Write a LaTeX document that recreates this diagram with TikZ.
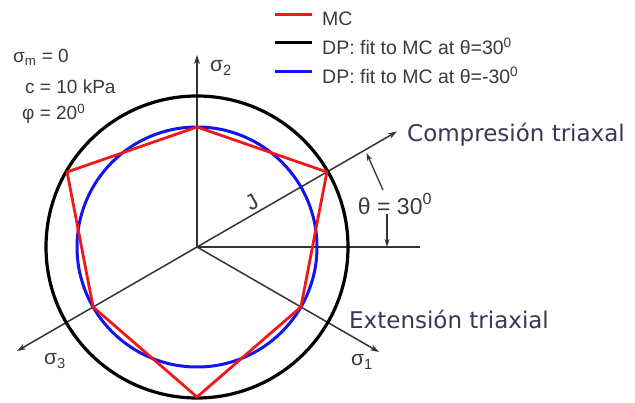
\documentclass[tikz,border=0pt]{standalone}
\usepackage{fontspec}
\setmainfont{Liberation Sans}
\newfontfamily\dejavu{DejaVu Sans}
\usetikzlibrary{arrows.meta}
\definecolor{txtgray}{HTML}{3A3A3A}
\definecolor{navy}{HTML}{3B3558}
\definecolor{mcred}{HTML}{F21818}
\definecolor{dpblue}{HTML}{1414EE}
\definecolor{axgray}{HTML}{333333}
\begin{document}
\begin{tikzpicture}[x=1pt,y=-1pt,
  axis/.style={draw=axgray,line width=1.5pt,-{Stealth[length=9pt,width=6pt]}},
  thin/.style={draw=axgray,line width=1.5pt},
  marker/.style={draw=axgray,line width=1.3pt,-{Stealth[length=8pt,width=5pt]}},
  legtxt/.style={anchor=base west,inner sep=0pt,text=txtgray,font=\fontsize{19.5}{22}\selectfont},
  partxt/.style={anchor=base west,inner sep=0pt,text=txtgray,font=\fontsize{19}{22}\selectfont},
  sigtxt/.style={inner sep=0pt,text=txtgray,font=\fontsize{21}{24}\selectfont},
  bigtxt/.style={anchor=base west,inner sep=0pt,text=navy,font=\dejavu\fontsize{23}{26}\selectfont},
  legline/.style={line width=3pt}]
\useasboundingbox (0,0) rectangle (635,403);

% centre and key points
\coordinate (O) at (197,247);
\coordinate (s2) at (197,55);
\coordinate (s3) at (17,351);
\coordinate (s1) at (379,352);
\coordinate (comp) at (397,131.5);
\coordinate (hend) at (420,247);
\coordinate (onc) at (366.5,153);
\coordinate (mA) at (383,190);
\coordinate (mB) at (387,214);
\coordinate (mC) at (387,247);

% MC vertices
\coordinate (c1) at (326.9,172);
\coordinate (e1) at (197,127);
\coordinate (c2) at (67.1,172);
\coordinate (e2) at (93.1,307);
\coordinate (c3) at (197,397);
\coordinate (e3) at (300.9,307);

% axes
\draw[axis] (O) -- (s2);
\draw[axis] (O) -- (s3);
\draw[axis] (O) -- (s1);
\draw[axis] (O) -- (comp);
\draw[thin] (O) -- (hend);

% curves
\draw[black,line width=3.2pt] (O) circle[radius=151];
\draw[dpblue,line width=3pt] (O) circle[radius=120];
\draw[mcred,line width=2.8pt,line join=miter] (c1) -- (e1) -- (c2) -- (e2) -- (c3) -- (e3) -- cycle;

% theta markers
\draw[marker] (mA) -- (onc);
\draw[marker] (mB) -- (mC);
\node[sigtxt,font=\fontsize{23}{26}\selectfont] (th) at (395,204) {θ = 30\textsuperscript{0}};
\node[sigtxt,font=\fontsize{22}{24}\selectfont,rotate=30] (J) at (252,202) {J};

% axis labels
\node[sigtxt] (l2) at (221,68) {σ\textsubscript{2}};
\node[sigtxt] (l3) at (55,361) {σ\textsubscript{3}};
\node[sigtxt] (l1) at (362,362) {σ\textsubscript{1}};
\node[bigtxt] (comptxt) at (407,142) {Compresión triaxal};
\node[bigtxt] (exttxt) at (349,329) {Extensión triaxial};

% parameters
\node[partxt] (p1) at (13,63) {σ\textsubscript{m} = 0};
\node[partxt] (p2) at (25,94) {c = 10 kPa};
\node[partxt] (p3) at (22,120) {φ = 20\textsuperscript{0}};

% legend
\coordinate (la1) at (275,15); \coordinate (lb1) at (312,15);
\coordinate (la2) at (275,43); \coordinate (lb2) at (312,43);
\coordinate (la3) at (275,72); \coordinate (lb3) at (312,72);
\draw[legline,mcred] (la1) -- (lb1);
\draw[legline,black] (la2) -- (lb2);
\draw[legline,dpblue] (la3) -- (lb3);
\node[legtxt] (t1) at (322,26) {MC};
\node[legtxt] (t2) at (322,55) {DP: fit to MC at θ=30\textsuperscript{0}};
\node[legtxt] (t3) at (322,84) {DP: fit to MC at θ=-30\textsuperscript{0}};
\end{tikzpicture}
\end{document}
